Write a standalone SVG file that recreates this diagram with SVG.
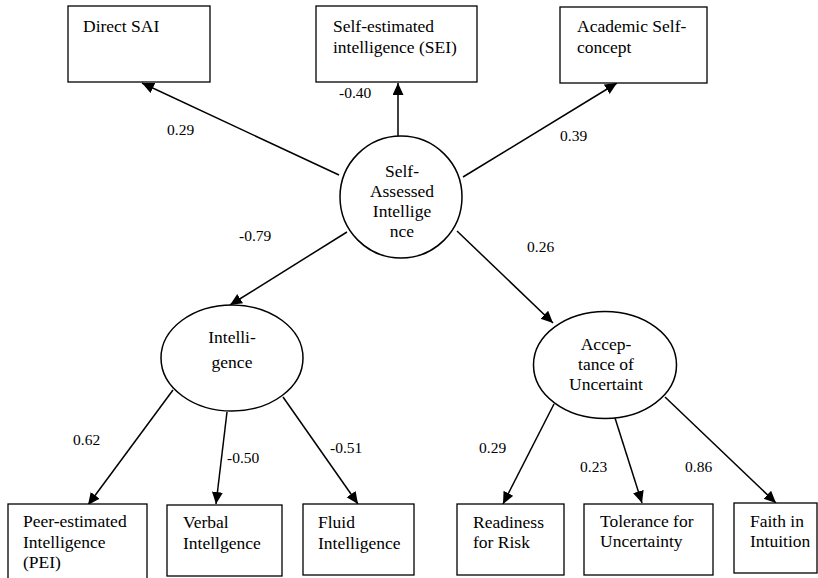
<svg xmlns="http://www.w3.org/2000/svg" width="818" height="578" viewBox="0 0 818 578">
<defs>
<style>
.box{fill:#fff;stroke:#000;stroke-width:1.3}
.lat{fill:#fff;stroke:#000;stroke-width:1.5}
.t{font-family:'Liberation Serif','Times New Roman','DejaVu Serif',serif;font-size:17.5px;fill:#000}
.c{text-anchor:middle}
.lbl{font-family:'Liberation Serif','Times New Roman','DejaVu Serif',serif;font-size:15.5px;fill:#000}
.e{stroke:#000;stroke-width:1.5;fill:none;marker-end:url(#ah)}
</style>
<marker id="ah" markerUnits="userSpaceOnUse" markerWidth="14" markerHeight="12" refX="12" refY="5.5" orient="auto">
<path d="M0,0 L12,5.5 L0,11 z" fill="#000"/>
</marker>
</defs>
<rect width="818" height="578" fill="#fff"/>
<g id="connectors">
<line class="e" x1="339" y1="175" x2="142" y2="83"/>
<line class="e" x1="398" y1="136" x2="398" y2="83"/>
<line class="e" x1="463" y1="177" x2="617" y2="83"/>
<line class="e" x1="347" y1="232" x2="230" y2="305"/>
<line class="e" x1="457" y1="231" x2="553" y2="323"/>
<line class="e" x1="173" y1="390" x2="88" y2="505"/>
<line class="e" x1="227" y1="412" x2="216" y2="504"/>
<line class="e" x1="283" y1="397" x2="358" y2="504"/>
<line class="e" x1="554" y1="404" x2="503" y2="504"/>
<line class="e" x1="615" y1="418" x2="642" y2="503"/>
<line class="e" x1="665" y1="397" x2="776" y2="503"/>
<text class="lbl" x="167" y="135">0.29</text>
<text class="lbl" x="339" y="98">-0.40</text>
<text class="lbl" x="560" y="141">0.39</text>
<text class="lbl" x="239" y="241">-0.79</text>
<text class="lbl" x="527" y="252">0.26</text>
<text class="lbl" x="73" y="445">0.62</text>
<text class="lbl" x="227" y="463">-0.50</text>
<text class="lbl" x="330" y="453">-0.51</text>
<text class="lbl" x="479" y="453">0.29</text>
<text class="lbl" x="580" y="472">0.23</text>
<text class="lbl" x="685" y="472">0.86</text>
</g>
<g id="direct-sai">
<rect class="box" x="68" y="6" width="142" height="76"/>
<text class="t" x="83" y="32">Direct SAI</text>
</g>
<g id="sei">
<rect class="box" x="316" y="6" width="161" height="76"/>
<text class="t" x="333" y="32">Self-estimated</text>
<text class="t" x="333" y="53">intelligence (SEI)</text>
</g>
<g id="academic">
<rect class="box" x="560" y="7" width="147" height="76"/>
<text class="t" x="577" y="32">Academic Self-</text>
<text class="t" x="577" y="53">concept</text>
</g>
<g id="sai">
<circle class="lat" cx="401" cy="197" r="61"/>
<text class="t c" x="402" y="177">Self-</text>
<text class="t c" x="402" y="197">Assessed</text>
<text class="t c" x="402" y="217">Intellige</text>
<text class="t c" x="402" y="237">nce</text>
</g>
<g id="intelligence">
<ellipse class="lat" cx="232" cy="358" rx="71" ry="53"/>
<text class="t c" x="232" y="343">Intelli-</text>
<text class="t c" x="232" y="368">gence</text>
</g>
<g id="acceptance">
<ellipse class="lat" cx="605" cy="365" rx="71.5" ry="53.5"/>
<text class="t c" x="606" y="350">Accep-</text>
<text class="t c" x="606" y="370">tance of</text>
<text class="t c" x="606" y="390">Uncertaint</text>
</g>
<g id="pei">
<rect class="box" x="8" y="504" width="139" height="80"/>
<text class="t" x="23" y="527">Peer-estimated</text>
<text class="t" x="23" y="548">Intelligence</text>
<text class="t" x="23" y="568">(PEI)</text>
</g>
<g id="verbal">
<rect class="box" x="167" y="505" width="115" height="71"/>
<text class="t" x="183" y="528">Verbal</text>
<text class="t" x="183" y="549">Intellgence</text>
</g>
<g id="fluid">
<rect class="box" x="303" y="504" width="111" height="71"/>
<text class="t" x="318" y="528">Fluid</text>
<text class="t" x="318" y="549">Intelligence</text>
</g>
<g id="readiness">
<rect class="box" x="457" y="504" width="107" height="71"/>
<text class="t" x="473" y="528">Readiness</text>
<text class="t" x="473" y="548">for Risk</text>
</g>
<g id="tolerance">
<rect class="box" x="584" y="504" width="129" height="71"/>
<text class="t" x="600" y="527">Tolerance for</text>
<text class="t" x="600" y="547">Uncertainty</text>
</g>
<g id="faith">
<rect class="box" x="734" y="503" width="83" height="70"/>
<text class="t" x="750" y="527">Faith in</text>
<text class="t" x="750" y="547">Intuition</text>
</g>
</svg>
